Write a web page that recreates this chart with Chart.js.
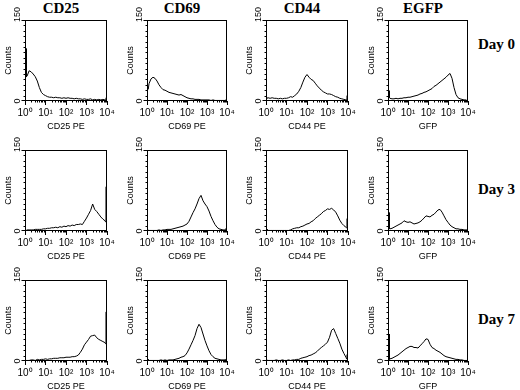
<!DOCTYPE html>
<html lang="en">
<head>
<meta charset="utf-8" />
<title>Flow histograms</title>
<style>
  body { margin: 0; background: #ffffff; }
  #fig { position: relative; width: 520px; height: 390px; overflow: hidden; background: #ffffff; }
  .marker {
    position: absolute; top: 1px; width: 70px; text-align: center;
    font: bold 15px "Liberation Serif", "Times New Roman", serif; line-height: 15px; color: #000;
  }
  .day {
    position: absolute; left: 478px; white-space: nowrap;
    font: bold 15px "Liberation Serif", "Times New Roman", serif; line-height: 15px; color: #000;
  }
</style>
</head>
<body>
<div id="fig"></div>

<script src="https://cdn.jsdelivr.net/npm/chart.js"></script>
<script>
// channel positions in decades (10^0 .. 10^4)
const channels = [0.05, 0.07,
  0.1, 0.2, 0.3, 0.4, 0.5, 0.6, 0.7, 0.8, 0.9, 1.0,
  1.1, 1.2, 1.3, 1.4, 1.5, 1.6, 1.7, 1.8, 1.9, 2.0,
  2.1, 2.2, 2.3, 2.4, 2.5, 2.6, 2.7, 2.8, 2.9, 3.0,
  3.1, 3.2, 3.3, 3.4, 3.5, 3.6, 3.7, 3.8, 3.9,
  3.93, 3.95];

const markers = ["CD25", "CD69", "CD44", "EGFP"];
const days = ["Day 0", "Day 3", "Day 7"];
const xTitles = ["CD25 PE", "CD69 PE", "CD44 PE", "GFP"];
const xTickLabels = ["10\u2070", "10\u00b9", "10\u00b2", "10\u00b3", "10\u2074"];
const yTickValues = [0, 150];
const yTickLabels = ["0", "150"];

// Day 0
const cd25Day0 = [97, 45,
  46, 56, 54, 50, 45, 37, 25, 16, 12, 10,
  8, 7, 7, 6, 7, 6, 6, 5, 6, 5,
  6, 5, 5, 4, 5, 4, 4, 3, 4, 3,
  3, 4, 2, 3, 2, 3, 2, 3, 2,
  2, 6];
const cd69Day0 = [22, 24,
  32, 41, 44, 42, 37, 30, 25, 21, 20, 18,
  16, 15, 14, 13, 12, 11, 12, 10, 8, 6,
  5, 4, 4, 3, 3, 3, 2, 2, 2, 2,
  2, 1, 2, 1, 1, 1, 1, 1, 1,
  1, 2];
const cd44Day0 = [5, 6,
  6, 5, 6, 5, 5, 4, 5, 4, 5, 5,
  6, 8, 7, 10, 13, 18, 25, 35, 44, 49,
  44, 40, 38, 33, 28, 24, 20, 17, 15, 13,
  13, 12, 10, 8, 7, 5, 4, 3, 2,
  3, 10];
const gfpDay0 = [19, 6,
  5, 4, 4, 5, 4, 5, 5, 6, 6, 7,
  7, 8, 9, 10, 11, 13, 14, 16, 17, 19,
  21, 23, 27, 29, 32, 35, 38, 41, 44, 48,
  51, 42, 25, 12, 6, 4, 3, 2, 2,
  1, 1];

// Day 3
const cd25Day3 = [2, 1,
  2, 2, 2, 2, 3, 3, 3, 3, 4, 4,
  5, 5, 6, 6, 7, 6, 8, 7, 9, 8,
  10, 9, 11, 10, 12, 12, 13, 12, 18, 24,
  31, 38, 50, 40, 36, 31, 26, 22, 19,
  17, 82];
const cd69Day3 = [2, 1,
  1, 1, 1, 1, 1, 2, 1, 2, 2, 3,
  3, 3, 4, 5, 6, 7, 8, 9, 11, 13,
  18, 26, 34, 41, 50, 60, 66, 56, 50, 45,
  37, 27, 19, 12, 7, 4, 3, 2, 2,
  3, 5];
const cd44Day3 = [3, 1,
  1, 1, 1, 1, 1, 1, 1, 1, 1, 1,
  1, 2, 4, 5, 6, 6, 8, 9, 11, 13,
  14, 17, 19, 23, 26, 29, 32, 36, 38, 41,
  40, 42, 39, 35, 28, 20, 14, 10, 7,
  6, 23];
const gfpDay3 = [34, 4,
  4, 5, 7, 9, 11, 13, 15, 19, 17, 16,
  17, 15, 13, 14, 15, 17, 20, 24, 28, 27,
  26, 29, 31, 35, 39, 40, 35, 28, 21, 16,
  11, 8, 6, 4, 4, 3, 3, 2, 2,
  2, 2];

// Day 7
const cd25Day7 = [1, 1,
  1, 1, 2, 2, 1, 3, 2, 3, 3, 4,
  3, 4, 4, 5, 5, 5, 6, 6, 6, 7,
  7, 7, 8, 8, 9, 11, 16, 22, 30, 35,
  40, 46, 47, 48, 43, 40, 38, 36, 34,
  32, 91];
const cd69Day7 = [3, 1,
  1, 1, 1, 1, 1, 1, 2, 1, 2, 1,
  2, 2, 2, 3, 4, 5, 7, 8, 10, 15,
  22, 30, 38, 47, 60, 68, 62, 50, 38, 28,
  19, 12, 8, 5, 4, 3, 2, 2, 2,
  2, 4];
const cd44Day7 = [2, 1,
  1, 1, 1, 1, 2, 1, 1, 2, 1, 1,
  2, 1, 2, 2, 3, 3, 5, 6, 7, 8,
  10, 11, 13, 15, 18, 22, 25, 28, 31, 35,
  44, 57, 60, 51, 42, 33, 22, 14, 7,
  4, 12];
const gfpDay7 = [50, 3,
  4, 5, 7, 9, 11, 14, 17, 20, 23, 25,
  27, 27, 25, 25, 24, 28, 32, 36, 41, 40,
  31, 25, 23, 20, 18, 16, 13, 10, 8, 7,
  6, 5, 4, 3, 3, 2, 2, 1, 1,
  1, 1];

const histograms = [
  [cd25Day0, cd69Day0, cd44Day0, gfpDay0],
  [cd25Day3, cd69Day3, cd44Day3, gfpDay3],
  [cd25Day7, cd69Day7, cd44Day7, gfpDay7],
];

// layout of the plot boxes on the page
const colLeft = [25, 147, 266, 388];
const colWidth = [82, 80, 82, 80];
const rowTop = [20, 150, 280];
const dayTop = [37, 182, 312];
const PLOT_H = 81;
const PAD_L = 24, PAD_T = 16, PAD_R = 10, PAD_B = 32;
const SANS = '"Liberation Sans", Arial, sans-serif';

const fig = document.getElementById("fig");

markers.forEach((m, c) => {
  const d = document.createElement("div");
  d.className = "marker";
  d.textContent = m;
  d.style.left = (colLeft[c] + colWidth[c] / 2 - 5 - 35) + "px";
  fig.appendChild(d);
});
days.forEach((t, r) => {
  const d = document.createElement("div");
  d.className = "day";
  d.textContent = t;
  d.style.top = dayTop[r] + "px";
  fig.appendChild(d);
});

// box, minor ticks and rotated y labels
const framePlugin = {
  id: "frame",
  afterDraw(chart) {
    const { ctx, chartArea: a, scales: { x, y } } = chart;
    const L = Math.round(a.left) + 0.5, R = Math.round(a.right) - 0.5;
    const T = Math.round(a.top) + 0.5, B = Math.round(a.bottom) - 0.5;
    ctx.save();
    ctx.strokeStyle = "#000";
    ctx.lineWidth = 1;
    ctx.strokeRect(L, T, R - L, B - T);

    ctx.beginPath();
    for (let dec = 0; dec < 4; dec++) {
      for (let k = 2; k <= 9; k++) {
        const px = Math.round(x.getPixelForValue(dec + Math.log10(k))) + 0.5;
        ctx.moveTo(px, B);
        ctx.lineTo(px, B + 2);
      }
    }
    for (let v = 10; v < 150; v += 10) {
      const py = Math.round(y.getPixelForValue(v)) + 0.5;
      ctx.moveTo(L, py);
      ctx.lineTo(L - 2, py);
    }
    yTickValues.forEach((v) => {
      const py = Math.round(y.getPixelForValue(v)) + (v === 0 ? -0.5 : 0.5);
      ctx.moveTo(L, py);
      ctx.lineTo(L - 4, py);
    });
    ctx.stroke();

    ctx.fillStyle = "#000";
    ctx.font = "9px " + SANS;
    ctx.textBaseline = "middle";
    yTickValues.forEach((v, i) => {
      ctx.save();
      const top = v === 150;
      ctx.translate(a.left - 7, y.getPixelForValue(v) + (top ? 2 : 0));
      ctx.rotate(-Math.PI / 2);
      ctx.textAlign = top ? "left" : "center";
      ctx.fillText(yTickLabels[i], 0, 0);
      ctx.restore();
    });
    ctx.restore();
  },
};

histograms.forEach((row, r) => {
  row.forEach((counts, c) => {
    const w = PAD_L + colWidth[c] + PAD_R;
    const h = PAD_T + PLOT_H + PAD_B;
    const canvas = document.createElement("canvas");
    canvas.width = w;
    canvas.height = h;
    canvas.style.cssText =
      "position:absolute;left:" + (colLeft[c] - PAD_L) + "px;top:" +
      (rowTop[r] - PAD_T) + "px;width:" + w + "px;height:" + h + "px";
    fig.appendChild(canvas);

    new Chart(canvas, {
      type: "line",
      data: {
        datasets: [{
          data: channels.map((x, i) => ({ x: x, y: counts[i] })),
          borderColor: "#000",
          borderWidth: 1,
          pointRadius: 0,
          tension: 0,
          fill: false,
        }],
      },
      options: {
        responsive: false,
        animation: false,
        events: [],
        layout: { padding: { left: 0, top: PAD_T, right: PAD_R, bottom: 0 } },
        plugins: { legend: { display: false }, tooltip: { enabled: false } },
        scales: {
          x: {
            type: "linear",
            min: 0,
            max: 4,
            afterFit: (s) => { s.height = PAD_B; },
            border: { display: false },
            grid: { drawOnChartArea: false, tickLength: 4, color: "#000", lineWidth: 1 },
            ticks: {
              stepSize: 1,
              autoSkip: false,
              maxRotation: 0,
              padding: 2,
              color: "#000",
              font: { family: '"Liberation Sans Narrow", ' + SANS, size: 10 },
              callback: (v) => xTickLabels[v],
            },
            title: {
              display: true,
              text: xTitles[c],
              color: "#000",
              font: { family: SANS, size: 9 },
              padding: { top: 0, bottom: 1 },
            },
          },
          y: {
            min: 0,
            max: 150,
            afterFit: (s) => { s.width = PAD_L; },
            border: { display: false },
            grid: { display: false },
            ticks: { display: false },
            title: {
              display: true,
              text: "Counts",
              color: "#000",
              font: { family: SANS, size: 9 },
              padding: { top: 2, bottom: 0 },
            },
          },
        },
      },
      plugins: [framePlugin],
    });
  });
});
</script>
</body>
</html>
